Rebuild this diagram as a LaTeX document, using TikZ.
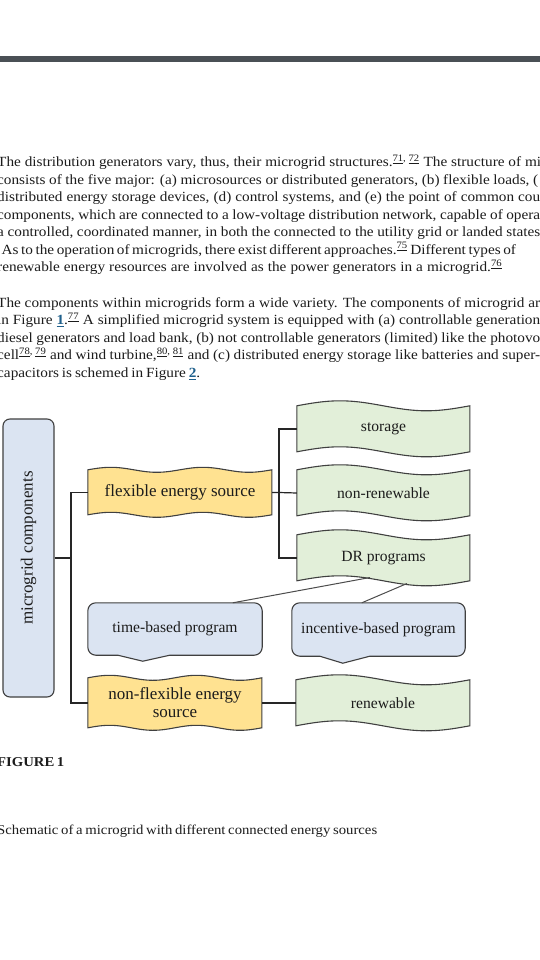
\documentclass[tikz,border=0pt]{standalone}
\usepackage{fontspec}
\setmainfont{Liberation Serif}
\newfontfamily\bodyfont[FakeStretch=1.09]{Liberation Serif}
\usepackage{xcolor}
\usetikzlibrary{backgrounds,calc,positioning}

\definecolor{barGray}{RGB}{74,80,85}
\definecolor{textBlack}{RGB}{28,28,28}
\definecolor{linkBlue}{RGB}{31,96,140}
\definecolor{greenFill}{RGB}{226,239,217}
\definecolor{yellowFill}{RGB}{255,226,145}
\definecolor{blueFill}{RGB}{219,228,242}
\definecolor{edgeGray}{RGB}{64,64,64}

\newcommand{\refs}[1]{\textsuperscript{#1}}
\newcommand{\figref}[1]{\textcolor{linkBlue}{\textbf{\underline{#1}}}}

\tikzset{%
  textline/.style={anchor=base west, inner sep=0pt, font=\bodyfont\fontsize{14}{17.5}\selectfont, text=textBlack},
  capline/.style={anchor=base west, inner sep=0pt, font=\bodyfont\fontsize{13.5}{16}\selectfont, text=textBlack},
  boxline/.style={draw=edgeGray, line width=1.1pt},
  wire/.style={draw=black!85, line width=1.2pt},
  slant/.style={draw=black!70, line width=1pt},
  waveNode/.style={inner sep=0pt, minimum width=173pt, minimum height=46pt},
  callNode/.style={inner sep=0pt},
  bigLabel/.style={inner sep=0pt, font=\fontsize{17}{18}\selectfont, text=textBlack, align=center},
  smallLabel/.style={inner sep=0pt, font=\fontsize{15.6}{18}\selectfont, text=textBlack, align=center}
}

\begin{document}
\begin{tikzpicture}[x=1pt, y=-1pt]
\useasboundingbox (0,0) rectangle (540,960);
\begin{scope}[on background layer]
\fill[white] (0,0) rectangle (540,960);
\end{scope}
\clip (0,0) rectangle (540,960);

\fill[barGray] (0,56) rectangle (540,62);

% body text, one node per printed line
\node[textline] (pOneA) at (-3,166.7) {\makebox[544pt][s]{The distribution generators vary, thus, their microgrid structures.\refs{\underline{71}, \underline{72}} The structure of mi}};
\node[textline] (pOneB) at (-3,184.2) {\makebox[541pt][s]{consists of the five major: (a) microsources or distributed generators, (b) flexible loads, (}};
\node[textline] (pOneC) at (-3,201.7) {\makebox[543pt][s]{distributed energy storage devices, (d) control systems, and (e) the point of common cou}};
\node[textline] (pOneD) at (-3,219.2) {\makebox[543pt][s]{components, which are connected to a low-voltage distribution network, capable of opera}};
\node[textline] (pOneE) at (-3,236.7) {\makebox[543pt][s]{a controlled, coordinated manner, in both the connected to the utility grid or landed states}};
\node[textline] (pOneF) at (1.5,254.2) {\makebox[513.5pt][s]{As to the operation of microgrids, there exist different approaches.\refs{\underline{75}} Different types of}};
\node[textline] (pOneG) at (-3,271.7) {\makebox[505pt][s]{renewable energy resources are involved as the power generators in a microgrid.\refs{\underline{76}}}};

\node[textline] (pTwoA) at (-3,307.3) {\makebox[543pt][s]{The components within microgrids form a wide variety. The components of microgrid ar}};
\node[textline] (pTwoB) at (-3,324.8) {\makebox[543pt][s]{in Figure \figref{1}.\refs{\underline{77}} A simplified microgrid system is equipped with (a) controllable generation}};
\node[textline] (pTwoC) at (-3,342.3) {\makebox[543pt][s]{diesel generators and load bank, (b) not controllable generators (limited) like the photovo}};
\node[textline] (pTwoD) at (-3,359.8) {\makebox[543pt][s]{cell\refs{\underline{78}, \underline{79}} and wind turbine,\refs{\underline{80}, \underline{81}} and (c) distributed energy storage like batteries and super-}};
\node[textline] (pTwoE) at (-3,377.3) {\makebox[203pt][s]{capacitors is schemed in Figure \figref{2}.}};

% diagram
\node[rounded corners=7pt, boxline, fill=blueFill, minimum width=51pt, minimum height=278pt] (mgNode) at (28.5,558) {};
\node[bigLabel, rotate=90] (mgTextNode) at (28.5,548) {microgrid components};

\node[waveNode, minimum width=184pt, minimum height=45pt, bigLabel] (flexNode) at (180,492.5) {flexible energy source};
\node[waveNode, minimum width=174pt, minimum height=50pt, bigLabel] (nonflexNode) at (175,703) {non-flexible energy\\source};

\node[waveNode, smallLabel] (storageNode) at (383.5,429) {storage};
\node[waveNode, smallLabel] (nonrenNode) at (383.5,493) {non-renewable};
\node[waveNode, smallLabel] (drNode) at (383.5,558) {DR programs};
\node[waveNode, minimum width=174pt, smallLabel] (renNode) at (383,703) {renewable};

\node[callNode, minimum width=174pt, minimum height=52pt, smallLabel] (timeNode) at (175,629) {time-based program};
\node[callNode, minimum width=173pt, minimum height=53pt, smallLabel] (incNode) at (378.5,629.5) {incentive-based program};

\begin{scope}[on background layer]
\filldraw[boxline, fill=yellowFill, shift={(flexNode.north west)}] plot[domain=0:184, samples=60, smooth] (\x,{-2.5*sin(\x/184*720)}) -- plot[domain=184:0, samples=60, smooth] (\x,{45-2.5*sin(\x/184*720)}) -- cycle;
\filldraw[boxline, fill=yellowFill, shift={(nonflexNode.north west)}] plot[domain=0:174, samples=60, smooth] (\x,{-2.5*sin(\x/174*720)}) -- plot[domain=174:0, samples=60, smooth] (\x,{50-2.5*sin(\x/174*720)}) -- cycle;
\filldraw[boxline, fill=greenFill, shift={(storageNode.north west)}] plot[domain=0:173, samples=40, smooth] (\x,{-5*sin(\x/173*360)}) -- plot[domain=173:0, samples=40, smooth] (\x,{46-5*sin(\x/173*360)}) -- cycle;
\filldraw[boxline, fill=greenFill, shift={(nonrenNode.north west)}] plot[domain=0:173, samples=40, smooth] (\x,{-5*sin(\x/173*360)}) -- plot[domain=173:0, samples=40, smooth] (\x,{46-5*sin(\x/173*360)}) -- cycle;
\filldraw[boxline, fill=greenFill, shift={(drNode.north west)}] plot[domain=0:173, samples=40, smooth] (\x,{-5*sin(\x/173*360)}) -- plot[domain=173:0, samples=40, smooth] (\x,{46-5*sin(\x/173*360)}) -- cycle;
\filldraw[boxline, fill=greenFill, shift={(renNode.north west)}] plot[domain=0:174, samples=40, smooth] (\x,{-5*sin(\x/174*360)}) -- plot[domain=174:0, samples=40, smooth] (\x,{46-5*sin(\x/174*360)}) -- cycle;

\filldraw[boxline, fill=blueFill, rounded corners=8pt] ($(timeNode.south west)+(20,0)$) -- (timeNode.south west) -- (timeNode.north west) -- (timeNode.north east) -- (timeNode.south east) -- ($(timeNode.south west)+(90,0)$) [sharp corners] -- ($(timeNode.south west)+(82,0)$) -- ($(timeNode.south west)+(55,6)$) -- ($(timeNode.south west)+(30,0)$) -- cycle;
\filldraw[boxline, fill=blueFill, rounded corners=8pt] ($(incNode.south west)+(20,0)$) -- (incNode.south west) -- (incNode.north west) -- (incNode.north east) -- (incNode.south east) -- ($(incNode.south west)+(86,0)$) [sharp corners] -- ($(incNode.south west)+(78,0)$) -- ($(incNode.south west)+(51,7)$) -- ($(incNode.south west)+(28,0)$) -- cycle;
\end{scope}

\coordinate (leftJoinNode) at (71,558);
\coordinate (rightJoinNode) at (279,492.5);
\coordinate (drFootLeftNode) at (370,577.5);
\coordinate (drFootRightNode) at (407,583.5);

\draw[wire] (mgNode.east) -- (leftJoinNode);
\draw[wire] (flexNode.west) -| (leftJoinNode) |- (nonflexNode.west);
\draw[wire] (flexNode.east) -- (rightJoinNode) -- (nonrenNode.west);
\draw[wire] (storageNode.west) -| (rightJoinNode) |- (drNode.west);
\draw[wire] (nonflexNode.east) -- (renNode.west);
\draw[slant] (drFootLeftNode) -- ($(timeNode.north west)+(145,0)$);
\draw[slant] (drFootRightNode) -- ($(incNode.north west)+(70,0)$);

% caption
\node[capline, font=\bodyfont\fontsize{13.5}{16}\selectfont\bfseries] (figLabel) at (-3,766.7) {\makebox[66pt][s]{FIGURE 1}};
\node[capline] (figCaption) at (-3,834) {\makebox[380pt][s]{Schematic of a microgrid with different connected energy sources}};
\end{tikzpicture}
\end{document}
